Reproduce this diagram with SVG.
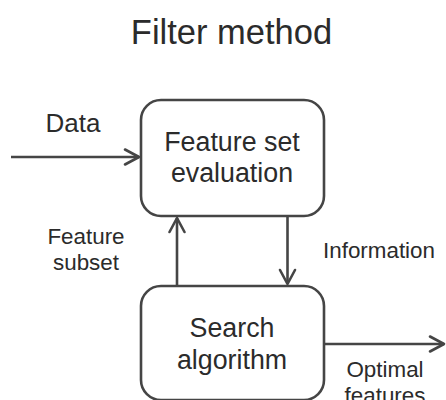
<svg xmlns="http://www.w3.org/2000/svg" width="446" height="400" viewBox="0 0 446 400">
  <style>
    text { font-family: "Liberation Sans", Arial, sans-serif; fill: #2b2b2b; text-anchor: middle; }
    .title { font-size: 34.5px; }
    .node-text { font-size: 26.8px; }
    .label { font-size: 22.4px; }
    .box { fill: #ffffff; stroke: #454545; stroke-width: 2.6; }
    .edge { fill: none; stroke: #454545; stroke-width: 2.6; }
  </style>
  <defs>
    <marker id="arrow" markerUnits="userSpaceOnUse" markerWidth="20" markerHeight="20" viewBox="-18 -10 20 20" refX="0" refY="0" orient="auto">
      <path d="M-14,-7.5 L0,0 L-14,7.5" fill="none" stroke="#454545" stroke-width="2.6" stroke-linejoin="round" stroke-linecap="round"/>
    </marker>
  </defs>
  <rect width="446" height="400" fill="#ffffff"/>
  <text class="title" x="231.5" y="44">Filter method</text>

  <g id="connectors">
    <line class="edge" x1="11" y1="157" x2="139" y2="157" marker-end="url(#arrow)"/>
    <line class="edge" x1="177" y1="286" x2="177" y2="218" marker-end="url(#arrow)"/>
    <line class="edge" x1="287.5" y1="216" x2="287.5" y2="284" marker-end="url(#arrow)"/>
    <line class="edge" x1="324" y1="344" x2="444" y2="344" marker-end="url(#arrow)"/>
    <text class="label" x="73" y="131.5" style="font-size:26px">Data</text>
    <text class="label" x="86" y="244">Feature</text>
    <text class="label" x="86" y="270">subset</text>
    <text class="label" x="379" y="258">Information</text>
    <text class="label" x="385" y="376.5">Optimal</text>
    <text class="label" x="385" y="402.5">features</text>
  </g>

  <g id="feature-set-evaluation">
    <rect class="box" x="141" y="100" width="183" height="116" rx="20" ry="20"/>
    <text class="node-text" x="232" y="150.7">Feature set</text>
    <text class="node-text" x="232" y="181.7">evaluation</text>
  </g>

  <g id="search-algorithm">
    <rect class="box" x="141" y="286" width="183" height="114" rx="20" ry="20"/>
    <text class="node-text" x="232" y="336.7">Search</text>
    <text class="node-text" x="232" y="368.5">algorithm</text>
  </g>
</svg>
